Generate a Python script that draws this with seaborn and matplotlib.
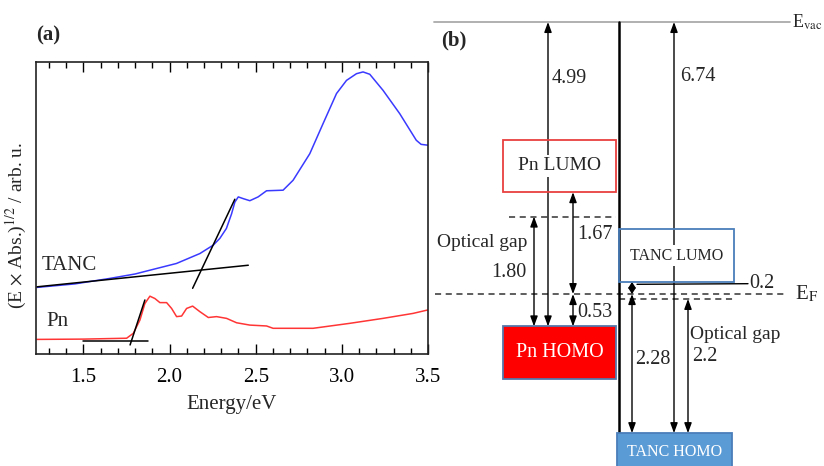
import numpy as np
import pandas as pd
import matplotlib
matplotlib.use('Agg')
import matplotlib.pyplot as plt
import seaborn as sns
from matplotlib.patches import Rectangle
from matplotlib.ticker import MultipleLocator

# ---- panel (a): (E x Abs.)^1/2 curves ----
tanc_energy = [1.23, 1.45, 1.655, 1.80, 1.886, 2.04, 2.176, 2.254, 2.292, 2.33, 2.36, 2.379,
               2.399, 2.428, 2.466, 2.514, 2.563, 2.659, 2.717, 2.814, 2.891, 2.969,
               3.027, 3.085, 3.123, 3.162, 3.239, 3.336, 3.432, 3.46, 3.5]
tanc_signal = [22.8, 24.0, 25.9, 27.4, 28.7, 31.0, 34.4, 37.3, 39.6, 43.0, 48.0, 52.0,
               53.8, 53.2, 52.5, 53.8, 55.9, 56.1, 59.5, 68.6, 78.9, 89.2,
               93.7, 96.0, 96.6, 95.8, 90.3, 82.3, 73.2, 71.8, 71.5]

pn_energy = [1.23, 1.50, 1.751, 1.79, 1.828, 1.857, 1.886, 1.915, 1.944, 1.983, 2.012,
             2.041, 2.07, 2.099, 2.134, 2.176, 2.225, 2.273, 2.331, 2.389, 2.466,
             2.563, 2.601, 2.833, 3.046, 3.239, 3.413, 3.5]
pn_signal = [5.0, 5.1, 5.4, 7.1, 11.6, 17.3, 19.8, 19.0, 17.6, 17.6, 15.6,
             12.8, 13.0, 15.6, 16.4, 14.5, 12.5, 12.8, 12.2, 10.7, 9.9,
             9.6, 8.8, 8.8, 10.5, 12.2, 13.9, 15.1]

# onset construction lines (x, y end points)
tanc_base = ([1.23, 2.457], [23.0, 30.4])
tanc_onset = ([2.134, 2.379], [22.5, 53.0])
pn_base = ([1.496, 1.877], [4.6, 4.6])
pn_onset = ([1.771, 1.857], [3.1, 18.5])

# ---- panel (b): energy levels, eV below vacuum ----
pn_homo = 4.99
tanc_homo = 6.74
ef_to_pn_homo = 0.53
pn_lumo_to_ef = 1.67
pn_optical_gap = 1.80
tanc_lumo_to_ef = 0.2
tanc_optical_gap = 2.2

e_f = pn_homo - ef_to_pn_homo
pn_lumo = e_f - pn_lumo_to_ef
tanc_lumo = e_f - tanc_lumo_to_ef
pn_gap_top = pn_homo - pn_optical_gap
tanc_gap_top = tanc_homo - tanc_optical_gap

sns.set_theme(style='white')
plt.rcParams['font.family'] = ['Liberation Serif', 'DejaVu Serif']
plt.rcParams['mathtext.fontset'] = 'stix'

fig = plt.figure(figsize=(8.24, 4.66), dpi=100)

# ---------------- panel (a) ----------------
ax = fig.add_axes([36 / 824, 112 / 466, 392 / 824, 292 / 466])
df_t = pd.DataFrame({'energy': tanc_energy, 'signal': tanc_signal})
df_p = pd.DataFrame({'energy': pn_energy, 'signal': pn_signal})
sns.lineplot(data=df_t, x='energy', y='signal', ax=ax, color='#3a3aff', lw=1.1,
             sort=False, estimator=None)
sns.lineplot(data=df_p, x='energy', y='signal', ax=ax, color='#ff3535', lw=1.1,
             sort=False, estimator=None)
for xs, ys in [tanc_base, tanc_onset, pn_base, pn_onset]:
    ax.plot(xs, ys, color='black', lw=1.1)

ax.text(1.258, 30.4, 'TANC', fontsize=15, va='center', ha='left')
ax.text(1.287, 11.1, 'Pn', fontsize=15, va='center', ha='left')

ax.set_xlim(1.225, 3.5)
ax.set_ylim(0, 100)
ax.set_xticks([1.5, 2.0, 2.5, 3.0, 3.5])
ax.set_xticklabels(['1.5', '2.0', '2.5', '3.0', '3.5'])
ax.xaxis.set_minor_locator(MultipleLocator(0.1))
ax.set_yticks([])
ax.tick_params(axis='x', which='both', direction='in', top=True, bottom=True,
               labelsize=15, colors='black', pad=10)
ax.tick_params(axis='x', which='major', length=7, width=1)
ax.tick_params(axis='x', which='minor', length=4, width=1)
for s in ax.spines.values():
    s.set_color('#222222')
    s.set_linewidth(1.2)
ax.set_xlabel('Energy/eV', fontsize=15, labelpad=6)
ax.set_ylabel(r'(E $\times$ Abs.)$^{1/2}$ / arb. u.', fontsize=14)
ax.yaxis.set_label_coords(-0.018, 0.44)
fig.text(36 / 824, 1 - 35 / 466, '(a)', fontsize=15, fontweight='bold', va='center')

# ---------------- panel (b) ----------------
bx = fig.add_axes([420 / 824, 0, 404 / 824, 1])
bx.set_xlim(420, 824)
bx.set_ylim((466 - 22) / 61, -22 / 61)
bx.axis('off')

box_h = 0.86
pn_x0, pn_x1 = 503, 616
tc_x0, tc_x1 = 619, 734

# vacuum level and Fermi level
bx.plot([434, 790], [0, 0], color='#aaaaaa', lw=1.3)
bx.text(792, 0, r'E$_{\rm vac}$', fontsize=13, va='center', ha='left')
bx.plot([435, 787], [e_f, e_f], color='#333333', lw=1.1, ls=(0, (4, 3)))
bx.text(795, e_f, r'E$_{\rm F}$', fontsize=15, va='center', ha='left')
bx.plot([509, 616], [pn_gap_top, pn_gap_top], color='#333333', lw=1.1, ls=(0, (4, 3)))
bx.plot([619, 733], [tanc_gap_top, tanc_gap_top], color='#333333', lw=1.1, ls=(0, (4, 3)))

# interface line
bx.plot([619, 619], [0, 7.4], color='black', lw=1.8)


def arrow(x, y0, y1, hl=0.6):
    bx.annotate('', xy=(x, y1), xytext=(x, y0),
                arrowprops=dict(arrowstyle='<|-|>,head_length=%s,head_width=0.22' % hl,
                                color='black', lw=1, shrinkA=0, shrinkB=0,
                                mutation_scale=10), zorder=2)


arrow(548, 0, pn_homo)
arrow(674, 0, tanc_homo)
arrow(534, pn_gap_top, pn_homo)
arrow(573, pn_lumo, e_f)
arrow(573, e_f, pn_homo)
arrow(632, tanc_lumo, e_f, hl=0.35)
arrow(632, e_f, tanc_homo)
arrow(688, tanc_gap_top, tanc_homo)
bx.plot([637, 748], [4.30, 4.29], color='black', lw=1)

# level boxes
bx.add_patch(Rectangle((pn_x0, pn_lumo - box_h), pn_x1 - pn_x0, box_h,
                       facecolor='none', edgecolor='#e84040', lw=1.3, zorder=3))
bx.add_patch(Rectangle((pn_x0, pn_homo), pn_x1 - pn_x0, box_h,
                       facecolor='#ff0000', edgecolor='#5577aa', lw=1.3, zorder=3))
bx.add_patch(Rectangle((tc_x0, tanc_lumo - box_h), tc_x1 - tc_x0, box_h,
                       facecolor='none', edgecolor='#4a7ebb', lw=1.3, zorder=3))
bx.add_patch(Rectangle((617, tanc_homo), 732 - 617, box_h,
                       facecolor='#5b9bd5', edgecolor='#4a7ebb', lw=1.3, zorder=3))

white_bg = dict(facecolor='white', edgecolor='none', pad=2)
bx.text((pn_x0 + pn_x1) / 2, pn_lumo - box_h / 2, 'Pn LUMO', fontsize=14,
        ha='center', va='center', bbox=white_bg, zorder=4)
bx.text((pn_x0 + pn_x1) / 2, pn_homo + box_h / 2, 'Pn HOMO', fontsize=14.5,
        ha='center', va='center', color='white', zorder=4)
bx.text((tc_x0 + tc_x1) / 2, tanc_lumo - box_h / 2, 'TANC LUMO', fontsize=11.5,
        ha='center', va='center', bbox=white_bg, zorder=4)
bx.text(675, tanc_homo + 0.31, 'TANC HOMO', fontsize=11.5,
        ha='center', va='center', color='white', zorder=4)

# values
fs = 14.5
bx.text(552, 0.92, '%.2f' % pn_homo, fontsize=fs, va='center', ha='left')
bx.text(680, 0.89, '%.2f' % tanc_homo, fontsize=fs, va='center', ha='left')
bx.text(437, 3.61, 'Optical gap', fontsize=14, va='center', ha='left')
bx.text(526, 4.11, '%.2f' % pn_optical_gap, fontsize=fs, va='center', ha='right')
bx.text(577, 3.49, '%.2f' % pn_lumo_to_ef, fontsize=fs, va='center', ha='left')
bx.text(577, 4.77, '%.2f' % ef_to_pn_homo, fontsize=fs, va='center', ha='left')
bx.text(749, 4.28, '%.1f' % tanc_lumo_to_ef, fontsize=fs, va='center', ha='left')
bx.text(635, 5.54, '%.2f' % (tanc_homo - e_f), fontsize=fs, va='center', ha='left')
bx.text(690, 5.13, 'Optical gap', fontsize=14, va='center', ha='left')
bx.text(692, 5.49, '%.1f' % tanc_optical_gap, fontsize=fs, va='center', ha='left')
fig.text(441 / 824, 1 - 40 / 466, '(b)', fontsize=15, fontweight='bold', va='center')

fig.savefig('out.png', dpi=100)
